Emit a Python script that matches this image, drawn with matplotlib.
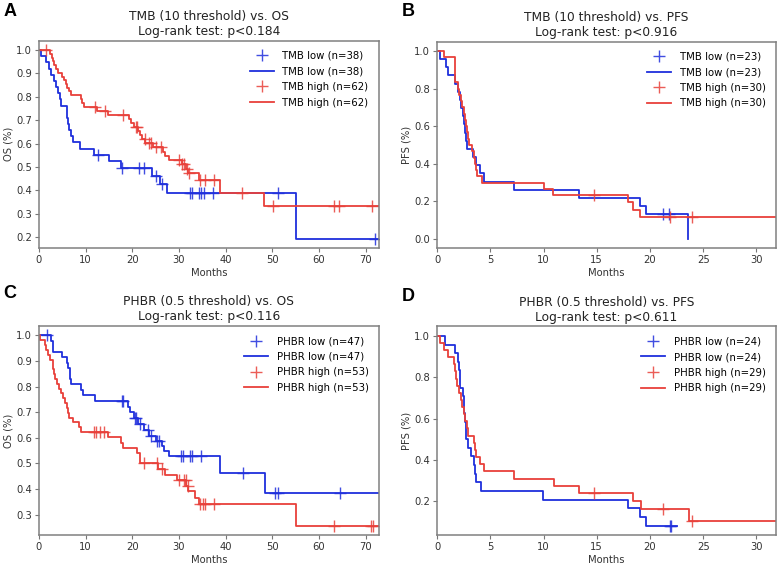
import numpy as np
import matplotlib.pyplot as plt
from matplotlib.ticker import MultipleLocator

# ---- A: TMB (10 threshold) vs. OS ----
a_low_t = [0, 0.4, 1.5, 2.2, 2.5, 3.3, 3.6, 4.0, 4.4, 4.8, 5.9, 6.1, 6.3, 6.5, 6.8, 7.2,
           8.8, 11.8, 15.0, 17.6, 24.2, 25.9, 27.5, 55.0]
a_low_s = [1.0, 0.974, 0.947, 0.921, 0.895, 0.868, 0.842, 0.816, 0.789, 0.763, 0.737, 0.711,
           0.684, 0.658, 0.632, 0.605, 0.579, 0.553, 0.526, 0.496, 0.463, 0.428, 0.389, 0.194]
a_low_cens = [12.6, 17.9, 21.4, 22.6, 25.1, 26.4, 32.4, 32.9, 34.4, 34.8, 35.4, 37.4, 51.3, 72.0]
a_high_t = [0, 2.3, 2.8, 3.1, 3.3, 3.6, 4.0, 5.0, 5.4, 5.8, 6.1, 6.5, 6.8, 8.9, 9.2, 9.6,
            12.5, 14.8, 19.2, 19.7, 20.3, 21.2, 21.6, 22.1, 22.8, 24.5, 26.6, 27.0, 27.9,
            30.6, 31.6, 32.0, 34.4, 38.8, 48.3]
a_high_s = [1.0, 0.984, 0.968, 0.952, 0.935, 0.919, 0.903, 0.887, 0.871, 0.855, 0.839, 0.823,
            0.806, 0.790, 0.774, 0.758, 0.741, 0.724, 0.706, 0.689, 0.671, 0.654, 0.636, 0.619,
            0.601, 0.584, 0.566, 0.549, 0.531, 0.512, 0.493, 0.474, 0.443, 0.389, 0.335]
a_high_cens = [1.6, 12.0, 14.1, 18.0, 20.7, 21.1, 22.7, 23.5, 24.0, 25.1, 26.1, 30.1, 30.7,
               31.1, 31.8, 32.2, 34.5, 35.6, 37.5, 43.6, 50.2, 63.3, 64.4, 71.4]

# ---- B: TMB (10 threshold) vs. PFS ----
b_low_t = [0, 0.3, 0.8, 1.0, 1.7, 2.0, 2.2, 2.3, 2.45, 2.55, 2.65, 2.75, 2.85, 3.4, 3.7, 4.0,
           4.4, 7.2, 13.3, 19.1, 19.6, 23.6]
b_low_s = [1.0, 0.957, 0.913, 0.870, 0.826, 0.783, 0.739, 0.696, 0.652, 0.609, 0.565, 0.522,
           0.478, 0.435, 0.391, 0.348, 0.304, 0.261, 0.217, 0.174, 0.130, 0.0]
b_low_cens = [21.2, 21.8]
b_high_t = [0, 0.65, 1.65, 2.0, 2.1, 2.3, 2.35, 2.5, 2.6, 2.7, 2.8, 2.9, 3.0, 3.3, 3.5, 3.6,
            3.7, 3.8, 4.2, 10.0, 10.9, 17.9, 18.4, 19.1]
b_high_s = [1.0, 0.967, 0.833, 0.800, 0.767, 0.733, 0.700, 0.667, 0.633, 0.600, 0.567, 0.533,
            0.500, 0.467, 0.433, 0.400, 0.367, 0.333, 0.300, 0.267, 0.233, 0.194, 0.155, 0.117]
b_high_cens = [14.7, 21.9, 23.9]

# ---- C: PHBR (0.5 threshold) vs. OS ----
c_low_t = [0, 2.6, 2.9, 3.1, 4.9, 6.0, 6.3, 6.6, 6.7, 6.8, 9.0, 9.5, 12.0, 19.0, 19.6, 20.3,
           21.2, 22.6, 23.6, 25.0, 26.3, 26.9, 27.8, 38.8, 48.4]
c_low_s = [1.0, 0.979, 0.957, 0.936, 0.915, 0.894, 0.872, 0.851, 0.830, 0.809, 0.787, 0.766,
           0.745, 0.722, 0.699, 0.676, 0.652, 0.630, 0.607, 0.588, 0.568, 0.548, 0.528, 0.462,
           0.385]
c_low_cens = [1.8, 17.7, 18.0, 20.5, 20.9, 21.6, 23.3, 24.1, 25.3, 25.8, 30.5, 30.9, 32.3,
              32.8, 34.7, 43.7, 50.5, 51.2, 64.5]
c_high_t = [0, 0.3, 1.3, 1.6, 2.0, 2.4, 2.9, 3.1, 3.3, 3.5, 3.8, 4.3, 4.7, 5.1, 5.5, 5.9, 6.2,
            6.5, 7.2, 8.6, 8.9, 14.7, 17.6, 18.1, 21.1, 21.6, 25.6, 27.1, 29.5, 31.6, 32.0,
            33.4, 34.4, 55.0]
c_high_s = [1.0, 0.981, 0.962, 0.943, 0.925, 0.906, 0.887, 0.868, 0.849, 0.830, 0.811, 0.792,
            0.774, 0.755, 0.736, 0.717, 0.698, 0.679, 0.660, 0.642, 0.623, 0.602, 0.581, 0.560,
            0.540, 0.503, 0.479, 0.454, 0.435, 0.412, 0.390, 0.366, 0.343, 0.257]
c_high_cens = [11.7, 12.3, 13.1, 14.0, 22.5, 25.2, 26.3, 30.1, 31.1, 31.5, 31.9, 34.5, 35.1,
               35.6, 37.5, 63.2, 71.1, 71.5]

# ---- D: PHBR (0.5 threshold) vs. PFS ----
d_low_t = [0, 0.75, 1.65, 1.95, 2.1, 2.15, 2.2, 2.4, 2.5, 2.55, 2.65, 2.7, 2.75, 2.9, 3.15,
           3.45, 3.6, 3.7, 4.1, 9.95, 17.9, 19.1, 19.6]
d_low_s = [1.0, 0.958, 0.917, 0.875, 0.833, 0.792, 0.750, 0.708, 0.667, 0.625, 0.583, 0.542,
           0.500, 0.458, 0.417, 0.375, 0.333, 0.292, 0.250, 0.208, 0.167, 0.125, 0.083]
d_low_cens = [21.85, 22.0]
d_high_t = [0, 0.3, 0.65, 1.0, 1.55, 1.65, 1.75, 1.9, 2.1, 2.25, 2.35, 2.5, 2.65, 2.8, 2.9,
            3.5, 3.6, 3.7, 4.0, 4.4, 7.2, 11.0, 13.3, 18.4, 19.2, 23.7]
d_high_s = [1.0, 0.966, 0.931, 0.897, 0.862, 0.828, 0.793, 0.759, 0.724, 0.690, 0.655, 0.621,
            0.586, 0.552, 0.517, 0.483, 0.448, 0.414, 0.379, 0.345, 0.310, 0.276, 0.241, 0.201,
            0.161, 0.107]
d_high_cens = [14.7, 21.2, 23.9]

BLUE = '#1f2fdc'
RED = '#e8403a'


def km_curve(ax, t, s, cens, end, color, label):
    t = np.asarray(t)
    s = np.asarray(s)
    idx = np.searchsorted(t, cens, side='right') - 1
    ax.plot(cens, s[idx], '+', color=color, ms=8, mew=1.0, alpha=0.85, label=label)
    ax.step(np.append(t, end), np.append(s, s[-1]), where='post', color=color, lw=1.3,
            label=label)


def style(ax, title, ylabel, xmax, xstep, ystep):
    ax.set_xlim(0, xmax)
    ax.xaxis.set_major_locator(MultipleLocator(xstep))
    ax.yaxis.set_major_locator(MultipleLocator(ystep))
    ax.set_title(title, fontsize=8.8, pad=4, color='#222222')
    ax.set_xlabel('Months', fontsize=7.2, color='#333333', labelpad=2)
    ax.set_ylabel(ylabel, fontsize=7.2, color='#333333', labelpad=2)
    ax.tick_params(labelsize=7.2, length=3, color='#777777', labelcolor='#333333', pad=2)
    for sp in ax.spines.values():
        sp.set_color('#808080')
        sp.set_linewidth(1.1)
    ax.legend(loc='upper right', frameon=False, fontsize=7.3, handlelength=2.4,
              borderaxespad=0.6, labelspacing=0.55)


fig = plt.figure(figsize=(7.78, 5.64), dpi=100)
axA = fig.add_axes([0.0501, 0.5603, 0.4366, 0.3676])
axB = fig.add_axes([0.5617, 0.5598, 0.4353, 0.3665])
axC = fig.add_axes([0.0501, 0.0514, 0.4366, 0.3706])
axD = fig.add_axes([0.5617, 0.0514, 0.4353, 0.3700])

km_curve(axA, a_low_t, a_low_s, a_low_cens, 72.8, BLUE, 'TMB low (n=38)')
km_curve(axA, a_high_t, a_high_s, a_high_cens, 72.8, RED, 'TMB high (n=62)')
style(axA, 'TMB (10 threshold) vs. OS\nLog-rank test: p<0.184', 'OS (%)', 72.8, 10, 0.1)

km_curve(axB, b_low_t, b_low_s, b_low_cens, 23.6, BLUE, 'TMB low (n=23)')
km_curve(axB, b_high_t, b_high_s, b_high_cens, 31.8, RED, 'TMB high (n=30)')
style(axB, 'TMB (10 threshold) vs. PFS\nLog-rank test: p<0.916', 'PFS (%)', 31.8, 5, 0.2)

km_curve(axC, c_low_t, c_low_s, c_low_cens, 72.8, BLUE, 'PHBR low (n=47)')
km_curve(axC, c_high_t, c_high_s, c_high_cens, 72.8, RED, 'PHBR high (n=53)')
style(axC, 'PHBR (0.5 threshold) vs. OS\nLog-rank test: p<0.116', 'OS (%)', 72.8, 10, 0.1)

km_curve(axD, d_low_t, d_low_s, d_low_cens, 22.5, BLUE, 'PHBR low (n=24)')
km_curve(axD, d_high_t, d_high_s, d_high_cens, 31.8, RED, 'PHBR high (n=29)')
style(axD, 'PHBR (0.5 threshold) vs. PFS\nLog-rank test: p<0.611', 'PFS (%)', 31.8, 5, 0.2)

for lab, x, y in [('A', 0.004, 0.995), ('B', 0.517, 0.995), ('C', 0.004, 0.494), ('D', 0.517, 0.489)]:
    fig.text(x, y, lab, fontsize=13, fontweight='bold', ha='left', va='top',
             family=['Liberation Sans', 'DejaVu Sans'])

fig.savefig('out.png', dpi=100)
